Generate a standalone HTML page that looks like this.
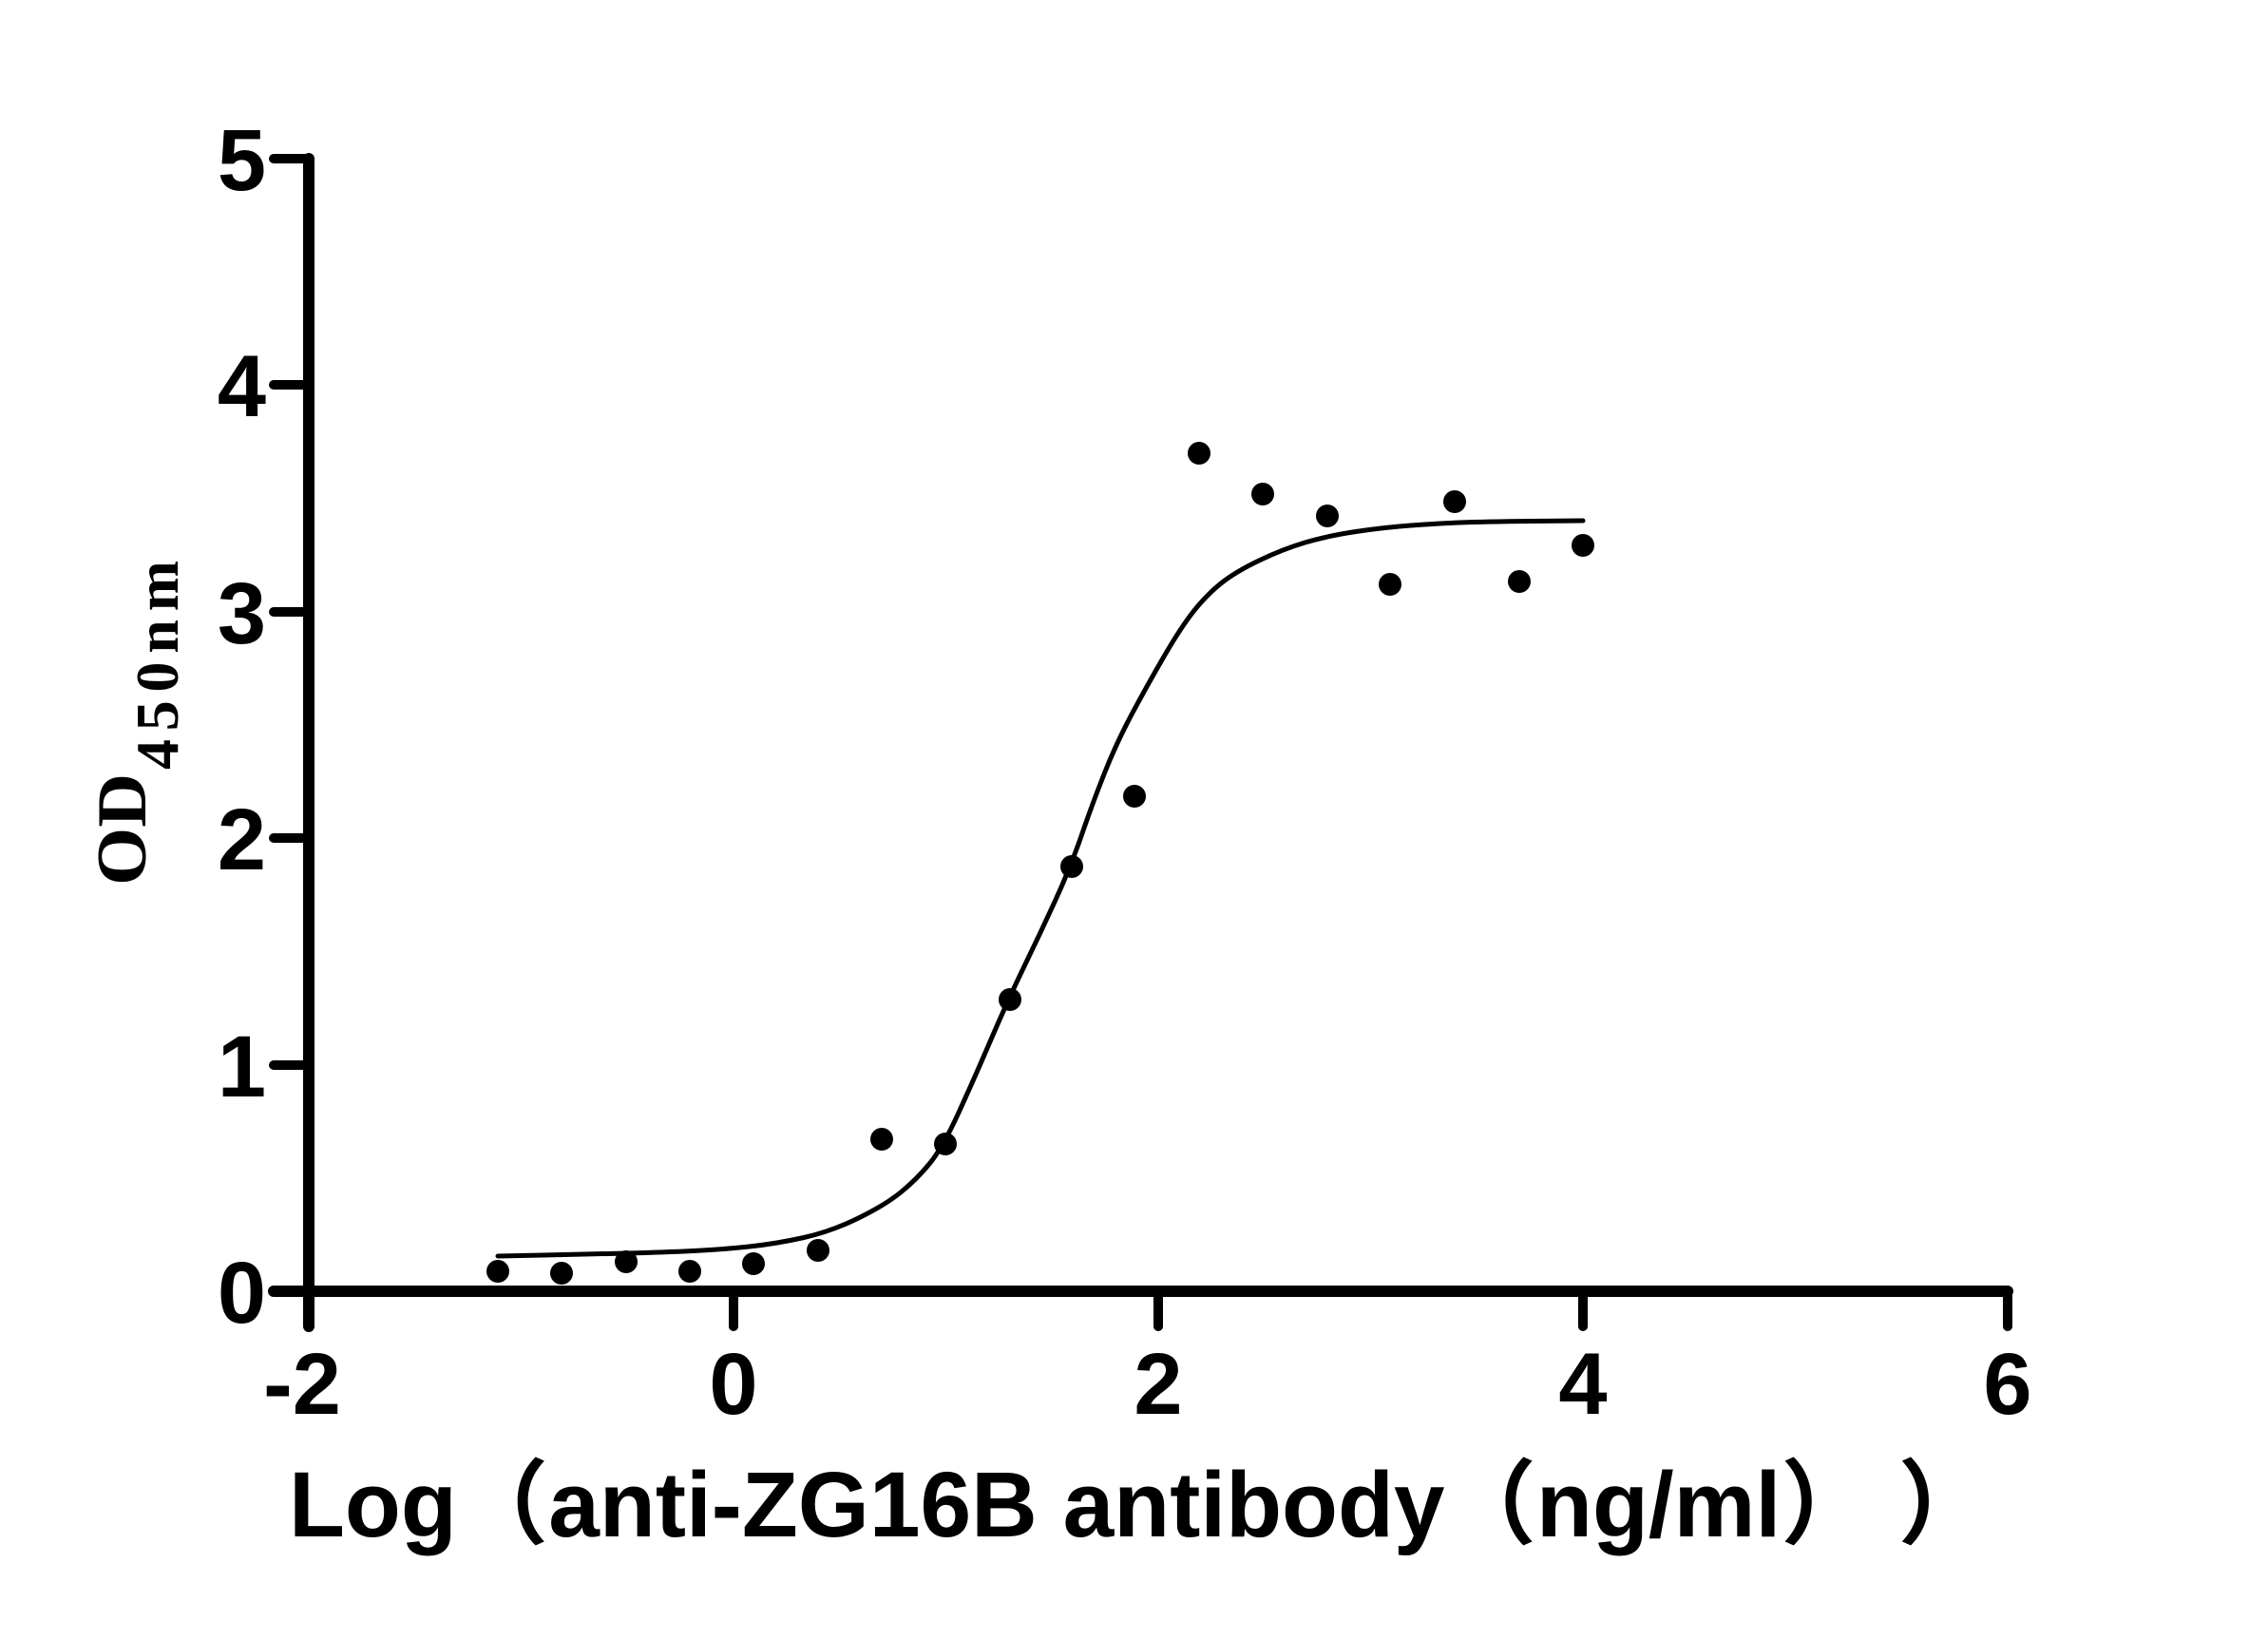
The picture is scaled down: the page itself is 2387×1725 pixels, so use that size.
<!DOCTYPE html>
<html><head><meta charset="utf-8"><style>html,body{margin:0;padding:0;background:#fff;}svg{display:block;}</style></head>
<body>
<svg width="2387" height="1725" viewBox="0 0 2387 1725" xmlns="http://www.w3.org/2000/svg">
<rect width="2387" height="1725" fill="#fff"/>
<g stroke="#000" stroke-linecap="round" fill="none">
<line x1="325" y1="167" x2="325" y2="1396" stroke-width="12"/>
<line x1="288" y1="1359" x2="2113" y2="1359" stroke-width="12"/>
<g stroke-width="10">
<line x1="288" y1="167" x2="325" y2="167"/>
<line x1="288" y1="405" x2="325" y2="405"/>
<line x1="288" y1="644" x2="325" y2="644"/>
<line x1="288" y1="882" x2="325" y2="882"/>
<line x1="288" y1="1121" x2="325" y2="1121"/>
<line x1="772" y1="1359" x2="772" y2="1396"/>
<line x1="1219" y1="1359" x2="1219" y2="1396"/>
<line x1="1666" y1="1359" x2="1666" y2="1396"/>
<line x1="2113" y1="1359" x2="2113" y2="1396"/>
</g>
<path stroke-width="5" stroke-linejoin="round" d="M524,1322 L572,1321 Q620,1320 660,1319 Q700,1318 730,1316.5 Q760,1315 788.5,1312 Q817,1309 846,1302.5 Q875,1296 903.5,1282 Q932,1268 948.5,1254.5 Q965,1241 978.5,1224.5 Q992,1208 1008.5,1172 Q1025,1136 1043,1094 Q1061,1052 1078,1017 Q1095,982 1111,947 Q1127,912 1138.5,878.5 Q1150,845 1162.5,813.5 Q1175,782 1191,752 Q1207,722 1225,691 Q1243,660 1256.5,643 Q1270,626 1285,614 Q1300,602 1325,590 Q1350,578 1373.5,571 Q1397,564 1427,559.5 Q1457,555 1485,553 Q1513,551 1536.5,550 Q1560,549 1613,548.5 L1666,548"/>
</g>
<g fill="#000">
<circle cx="524" cy="1338" r="12"/><circle cx="591" cy="1340" r="12"/><circle cx="659" cy="1328" r="12"/>
<circle cx="726" cy="1338" r="12"/><circle cx="793" cy="1330" r="12"/><circle cx="861" cy="1316" r="12"/>
<circle cx="928" cy="1199" r="12"/><circle cx="995" cy="1204" r="12"/><circle cx="1063" cy="1052" r="12"/>
<circle cx="1128" cy="912" r="12"/><circle cx="1194" cy="838" r="12"/><circle cx="1262" cy="477" r="12"/>
<circle cx="1329" cy="520" r="12"/><circle cx="1397" cy="543" r="12"/><circle cx="1463" cy="615" r="12"/>
<circle cx="1531" cy="528" r="12"/><circle cx="1599" cy="612" r="12"/><circle cx="1666" cy="574" r="12"/>
</g>
<g font-family="Liberation Sans, Arial, sans-serif" font-weight="bold" font-size="92" fill="#000">
<g text-anchor="end">
<text x="280" y="200">5</text>
<text x="280" y="438">4</text>
<text x="280" y="677">3</text>
<text x="280" y="915">2</text>
<text x="280" y="1154">1</text>
<text x="280" y="1392">0</text>
</g>
<g text-anchor="middle">
<text x="318" y="1488">-2</text>
<text x="772" y="1488">0</text>
<text x="1219" y="1488">2</text>
<text x="1666" y="1488">4</text>
<text x="2113" y="1488">6</text>
</g>
<text x="304" y="1617" font-size="97" textLength="1790" lengthAdjust="spacingAndGlyphs" font-family="Liberation Sans, 'Noto Sans CJK SC', sans-serif">Log（anti-ZG16B antibody（ng/ml）  ）</text>
</g>
<g font-family="Liberation Serif, 'Times New Roman', serif" font-weight="bold" fill="#000">
<text transform="translate(153,932) rotate(-90)" font-size="74" textLength="118" lengthAdjust="spacingAndGlyphs">OD</text>
<text transform="translate(187,810) rotate(-90)" font-size="64" textLength="220" lengthAdjust="spacing">450nm</text>
</g>
</svg>
</body></html>
